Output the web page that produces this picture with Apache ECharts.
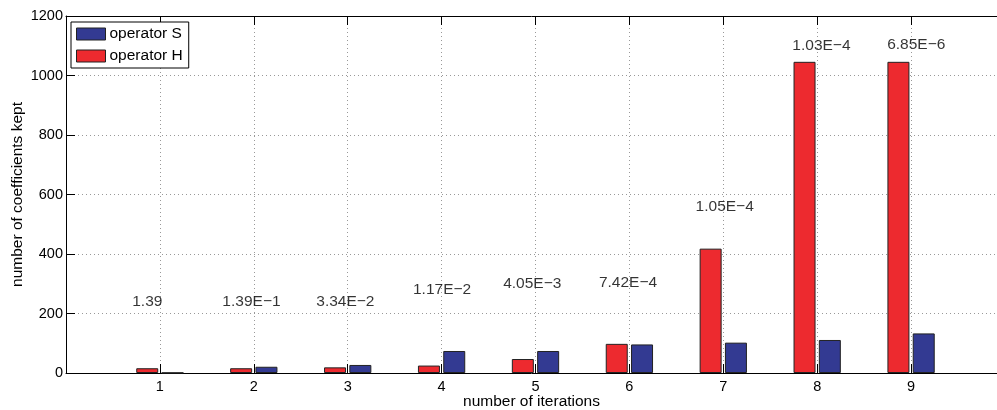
<!DOCTYPE html>
<html>
<head>
<meta charset="utf-8">
<script src="https://cdn.jsdelivr.net/npm/echarts@6/dist/echarts.min.js"></script>
<style>
html,body{margin:0;padding:0;background:#fff;overflow:hidden;}
#chart{width:997px;height:410px;}
</style>
</head>
<body>
<div id="chart"></div>
<script>
// Data
var iterations = [1, 2, 3, 4, 5, 6, 7, 8, 9];
var tickLabels = ['1', '2', '3', '4', '5', '6', '7', '8', '9'];
var operatorH = [16, 16, 19, 25, 47, 98, 418, 1046, 1046];
var operatorS = [1, 21, 27, 74, 74, 96, 102, 111, 133];
var annotationText = ['1.39', '1.39E\u22121', '3.34E\u22122', '1.17E\u22122', '4.05E\u22123', '7.42E\u22124', '1.05E\u22124', '1.03E\u22124', '6.85E\u22126'];
var annotationX = [0.70, 1.66, 2.66, 3.69, 4.65, 5.67, 6.70, 7.73, 8.74];
var annotationY = [239, 239, 239, 279, 299, 304, 559, 1100, 1105];
var yTicks = [0, 200, 400, 600, 800, 1000, 1200];

var FONT = '"Liberation Sans", Arial, Helvetica, sans-serif';
var RED = '#ED2A2F';
var BLUE = '#333A92';

function pairs(xs, ys) { return xs.map(function (x, i) { return [x, ys[i]]; }); }

var chart = echarts.init(document.getElementById('chart'), null, {renderer: 'canvas'});
chart.setOption({
  animation: false,
  backgroundColor: '#fff',
  textStyle: {fontFamily: FONT},
  grid: {show: false, left: 66, top: 16, width: 931, height: 357, containLabel: false, outerBoundsMode: 'none'},
  legend: {
    data: ['operator S', 'operator H'],
    orient: 'vertical',
    left: 71, top: 22,
    padding: [4, 6, 4, 5],
    itemWidth: 29, itemHeight: 12, itemGap: 6,
    borderColor: '#000', borderWidth: 1, backgroundColor: '#fff',
    icon: 'rect',
    itemStyle: {borderColor: '#222', borderWidth: 1},
    textStyle: {fontFamily: FONT, fontSize: 15.5, color: '#000', lineHeight: 13, padding: [0, 0, 0, -1]}
  },
  xAxis: [{
    type: 'value', min: 0, max: 9.915, interval: 1,
    name: 'number of iterations', nameLocation: 'middle', nameGap: 21, nameMoveOverlap: false,
    nameTextStyle: {fontFamily: FONT, fontSize: 15.5, color: '#000'},
    axisLine: {show: true, lineStyle: {color: '#000', width: 1}},
    axisTick: {show: true, inside: true, length: 9, lineStyle: {color: '#000'}},
    axisLabel: {show: true, margin: 6, fontFamily: FONT, fontSize: 14.5, color: '#000', showMaxLabel: false,
      formatter: function (v) { var i = iterations.indexOf(v); return i >= 0 ? tickLabels[i] : ''; }},
    splitLine: {show: true, showMaxLine: false, lineStyle: {type: [1, 3], color: '#999', width: 1}}
  }, {
    type: 'value', min: 0, max: 9.915, interval: 1, position: 'top',
    axisLine: {show: true, lineStyle: {color: '#000', width: 1}},
    axisTick: {show: true, inside: true, length: 9, lineStyle: {color: '#000'}},
    axisLabel: {show: false},
    splitLine: {show: false}
  }],
  yAxis: {
    type: 'value', min: yTicks[0], max: yTicks[yTicks.length - 1], interval: 200,
    name: 'number of coefficients kept', nameLocation: 'middle', nameGap: 40, nameMoveOverlap: false,
    nameTextStyle: {fontFamily: FONT, fontSize: 15.5, color: '#000'},
    axisLine: {show: true, lineStyle: {color: '#000', width: 1}},
    axisTick: {show: true, inside: true, length: 9, lineStyle: {color: '#000'}},
    axisLabel: {margin: 3, fontFamily: FONT, fontSize: 14.5, color: '#000',
      formatter: function (v) { return String(v); }},
    splitLine: {show: true, lineStyle: {type: [1, 3], color: '#999', width: 1}}
  },
  series: [{
    name: 'operator H', type: 'bar', xAxisIndex: 0,
    data: pairs(iterations, operatorH),
    barWidth: 22, barGap: '15%',
    itemStyle: {color: RED, borderColor: '#222', borderWidth: 1}
  }, {
    name: 'operator S', type: 'bar', xAxisIndex: 0,
    data: pairs(iterations, operatorS),
    barWidth: 22, barGap: '15%',
    itemStyle: {color: BLUE, borderColor: '#222', borderWidth: 1}
  }, {
    name: 'thresholds', type: 'scatter', xAxisIndex: 0,
    data: annotationX.map(function (x, i) { return [x, annotationY[i], annotationText[i]]; }),
    symbolSize: 1, silent: true,
    itemStyle: {color: 'rgba(0,0,0,0)'},
    label: {show: true, position: 'right', distance: 0, color: '#000',
      fontFamily: FONT, fontSize: 15.5,
      formatter: function (p) { return p.data[2]; }},
    labelLayout: {hideOverlap: false},
    z: 5
  }]
});
</script>
</body>
</html>
